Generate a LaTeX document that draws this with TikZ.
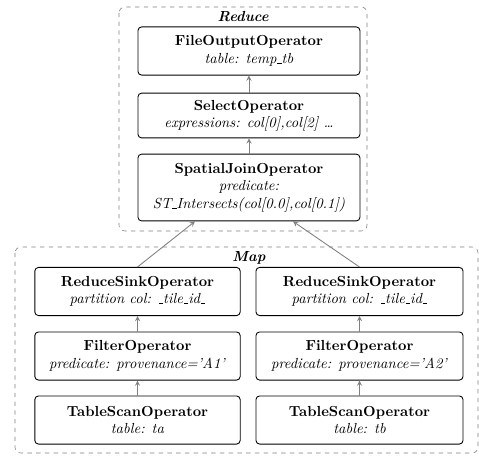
\documentclass[tikz,border=0pt]{standalone}
\usepackage{tikz}
\newcommand{\uline}{\leavevmode\kern.06em\vbox{\hrule width.3em}}

\begin{document}
\begin{tikzpicture}[op/.style={draw,rounded corners=2.5pt,semithick,align=center,minimum height=1.16cm,inner sep=2pt}, flow/.style={->,>=stealth,gray,semithick}, stage/.style={draw=gray,dashed,rounded corners=4pt}, scale=1]
        \useasboundingbox (0,0) rectangle (11.544,-10.966);

        \draw[stage] (2.868,-0.169) rectangle (8.845,-5.567);
        \draw[stage] (0.362,-5.953) rectangle (11.52,-10.917);
        \node (reducelbl) at (5.86,-0.4) {\textbf{\textit{Reduce}}};
        \node (maplbl) at (6.0,-6.21) {\textbf{\textit{Map}}};

        \node[op, minimum width=5.35cm] (fileout) at (6.0,-1.229) {\textbf{FileOutputOperator}\\ \textit{table: temp\uline tb}};
        \node[op, minimum width=5.35cm, minimum height=1.08cm] (select) at (6.0,-2.784) {\textbf{SelectOperator}\\ \textit{expressions: col[0],col[2] \dots}};
        \node[op, minimum width=5.35cm, minimum height=1.61cm] (spjoin) at (6.0,-4.519) {\textbf{SpatialJoinOperator}\\ \textit{predicate:}\\ \textit{ST\uline Intersects(col[0.0],col[0.1])}};

        \node[op, minimum width=4.95cm] (sinka) at (3.314,-7.025) {\textbf{ReduceSinkOperator}\\ \textit{partition col: \uline tile\uline id\uline}};
        \node[op, minimum width=4.95cm] (filtera) at (3.314,-8.580) {\textbf{FilterOperator}\\ \textit{predicate: provenance='A1'}};
        \node[op, minimum width=4.95cm] (scana) at (3.314,-10.122) {\textbf{TableScanOperator}\\ \textit{table: ta}};

        \node[op, minimum width=4.99cm] (sinkb) at (8.664,-7.025) {\textbf{ReduceSinkOperator}\\ \textit{partition col: \uline tile\uline id\uline}};
        \node[op, minimum width=4.99cm] (filterb) at (8.664,-8.580) {\textbf{FilterOperator}\\ \textit{predicate: provenance='A2'}};
        \node[op, minimum width=4.99cm] (scanb) at (8.664,-10.122) {\textbf{TableScanOperator}\\ \textit{table: tb}};

        \draw[flow] (select) -- (fileout);
        \draw[flow] (spjoin) -- (select);
        \draw[flow] (scana) -- (filtera);
        \draw[flow] (filtera) -- (sinka);
        \draw[flow] (scanb) -- (filterb);
        \draw[flow] (filterb) -- (sinkb);
        \draw[flow] (sinka.north) -- ([xshift=-1.30cm]spjoin.south);
        \draw[flow] (sinkb.north) -- ([xshift=1.06cm]spjoin.south);
      \end{tikzpicture}
\end{document}
